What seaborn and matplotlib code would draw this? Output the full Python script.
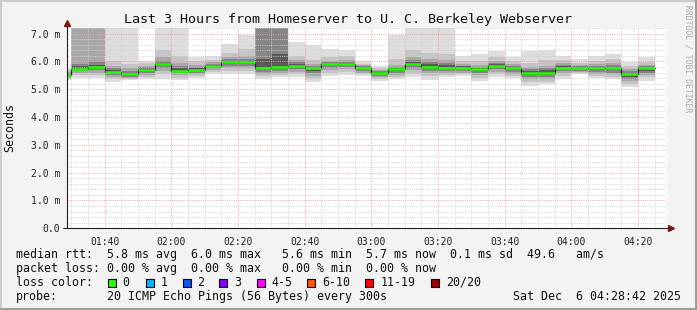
import matplotlib
matplotlib.use("Agg")
import matplotlib.pyplot as plt
from matplotlib.patches import Rectangle
from matplotlib.ticker import MultipleLocator
from matplotlib.lines import Line2D
import seaborn as sns
import pandas as pd

# ---------------- data ----------------
title = "Last 3 Hours from Homeserver to U. C. Berkeley Webserver"
bin_start = ["01:25", "01:30", "01:35", "01:40", "01:45", "01:50", "01:55", "02:00", "02:05",
             "02:10", "02:15", "02:20", "02:25", "02:30", "02:35", "02:40", "02:45", "02:50",
             "02:55", "03:00", "03:05", "03:10", "03:15", "03:20", "03:25", "03:30", "03:35",
             "03:40", "03:45", "03:50", "03:55", "04:00", "04:05", "04:10", "04:15", "04:20"]
median = [5.51, 5.74, 5.81, 5.63, 5.53, 5.69, 5.89, 5.67, 5.69, 5.84, 5.98, 5.98, 5.78, 5.81,
          5.85, 5.75, 5.89, 5.92, 5.75, 5.60, 5.71, 5.92, 5.81, 5.78, 5.78, 5.71, 5.85, 5.75,
          5.60, 5.60, 5.78, 5.75, 5.75, 5.75, 5.54, 5.75]
# smoke bands (ms): outermost (1) to innermost (5)
hi1 = [5.75, 7.4, 7.4, 7.4, 7.4, 6.02, 7.4, 7.4, 6.15, 6.2, 6.63, 6.95, 7.4, 7.4, 6.69, 6.6, 6.45, 6.41,
       6.0, 5.83, 6.95, 7.4, 7.4, 7.4, 6.2, 6.27, 6.39, 6.17, 6.39, 6.41, 6.19, 6.09, 6.19, 6.25, 5.97, 6.15]
hi2 = [5.68, 7.4, 7.4, 6.0, 5.92, 5.95, 6.4, 6.2, 6.0, 6.05, 6.3, 6.45, 7.4, 7.4, 6.2, 6.05, 6.15, 6.2,
       5.92, 5.76, 6.1, 6.4, 6.3, 6.25, 6.0, 6.0, 6.15, 6.0, 5.95, 6.05, 6.05, 5.95, 6.0, 6.1, 5.82, 5.97]
hi3 = [5.63, 7.4, 7.4, 5.85, 5.75, 5.85, 6.15, 5.95, 5.88, 5.97, 6.15, 6.2, 7.4, 7.4, 6.05, 5.92, 6.02, 6.05,
       5.86, 5.7, 5.88, 6.15, 6.1, 6.05, 5.9, 5.88, 6.0, 5.9, 5.8, 5.85, 5.95, 5.87, 5.9, 5.95, 5.72, 5.88]
hi4 = [5.59, 5.92, 5.98, 5.78, 5.65, 5.8, 6.0, 5.82, 5.8, 5.92, 6.07, 6.1, 7.4, 7.4, 5.97, 5.85, 5.96, 5.99,
       5.82, 5.66, 5.8, 6.05, 5.97, 5.93, 5.85, 5.8, 5.93, 5.84, 5.72, 5.75, 5.88, 5.82, 5.84, 5.86, 5.65, 5.82]
hi5 = [5.55, 5.82, 5.88, 5.7, 5.6, 5.74, 5.95, 5.75, 5.75, 5.88, 6.02, 6.03, 6.1, 6.25, 5.92, 5.8, 5.92, 5.95,
       5.79, 5.63, 5.76, 5.98, 5.9, 5.86, 5.82, 5.76, 5.89, 5.8, 5.66, 5.68, 5.83, 5.79, 5.8, 5.8, 5.6, 5.79]
lo5 = [5.47, 5.68, 5.72, 5.58, 5.49, 5.62, 5.82, 5.62, 5.64, 5.79, 5.9, 5.9, 5.7, 5.72, 5.78, 5.66, 5.82, 5.85,
       5.7, 5.54, 5.64, 5.85, 5.72, 5.7, 5.73, 5.65, 5.78, 5.69, 5.52, 5.52, 5.72, 5.71, 5.68, 5.68, 5.45, 5.67]
lo4 = [5.44, 5.64, 5.68, 5.52, 5.45, 5.57, 5.75, 5.57, 5.59, 5.75, 5.82, 5.83, 5.62, 5.65, 5.72, 5.58, 5.76, 5.8,
       5.64, 5.49, 5.58, 5.78, 5.65, 5.64, 5.67, 5.58, 5.72, 5.63, 5.45, 5.45, 5.65, 5.67, 5.62, 5.6, 5.38, 5.6]
lo3 = [5.41, 5.58, 5.6, 5.45, 5.42, 5.5, 5.65, 5.5, 5.53, 5.69, 5.75, 5.75, 5.55, 5.58, 5.63, 5.48, 5.68, 5.72,
       5.58, 5.43, 5.52, 5.68, 5.57, 5.57, 5.6, 5.5, 5.62, 5.56, 5.36, 5.36, 5.57, 5.63, 5.55, 5.53, 5.3, 5.52]
lo2 = [5.37, 5.5, 5.52, 5.38, 5.38, 5.43, 5.55, 5.42, 5.48, 5.62, 5.65, 5.67, 5.47, 5.5, 5.53, 5.38, 5.58, 5.62,
       5.53, 5.37, 5.45, 5.55, 5.47, 5.5, 5.54, 5.42, 5.53, 5.49, 5.25, 5.27, 5.48, 5.59, 5.49, 5.45, 5.2, 5.43]
lo1 = [5.33, 5.4, 5.42, 5.27, 5.33, 5.36, 5.37, 5.33, 5.42, 5.55, 5.55, 5.55, 5.37, 5.43, 5.43, 5.25, 5.49, 5.5,
       5.48, 5.28, 5.37, 5.43, 5.33, 5.43, 5.48, 5.31, 5.43, 5.42, 5.13, 5.17, 5.37, 5.54, 5.42, 5.37, 5.07, 5.31]

x_tick_labels = ["01:40", "02:00", "02:20", "02:40", "03:00", "03:20", "03:40", "04:00", "04:20"]
y_tick_values = [0, 1, 2, 3, 4, 5, 6, 7]
y_tick_labels = ["0.0", "1.0 m", "2.0 m", "3.0 m", "4.0 m", "5.0 m", "6.0 m", "7.0 m"]
window_start, window_end = "01:28:42", "04:28:42"

rtt_stats = ["5.8", "6.0", "5.6", "5.7", "0.1", "49.6"]
loss_stats = ["0.00", "0.00", "0.00", "0.00"]
loss_labels = ["0", "1", "2", "3", "4-5", "6-10", "11-19", "20/20"]
loss_colors = ["#26ff00", "#00b8ff", "#0059ff", "#7e00ff", "#ff00ff", "#ff5500", "#ff0000", "#a10000"]
probe_text = "20 ICMP Echo Pings (56 Bytes) every 300s"
date_text = "Sat Dec  6 04:28:42 2025"
watermark = "RRDTOOL / TOBI OETIKER"


def to_min(s):
    parts = [float(p) for p in s.split(":")]
    m = parts[0] * 60 + parts[1]
    if len(parts) > 2:
        m += parts[2] / 60
    return m


# ---------------- style ----------------
sns.set_theme(style="white")
plt.rcParams["font.family"] = ["DejaVu Sans Mono"]

W, H = 697, 310
BG = "#f3f3f3"
fig = plt.figure(figsize=(W / 100, H / 100), dpi=100, facecolor=BG)
ax_l, ax_r, ax_b, ax_t = 67, 667, 228.3, 28
ax = fig.add_axes([ax_l / W, 1 - ax_b / H, (ax_r - ax_l) / W, (ax_b - ax_t) / H])
ax.set_facecolor("white")

starts = [to_min(s) for s in bin_start]
step = 5.0
df = pd.DataFrame({"start": starts, "median": median})

band_colors = ["#dddddd", "#c4c4c4", "#a8a8a8", "#858585", "#5a5a5a"]
his = [hi1, hi2, hi3, hi4, hi5]
los = [lo1, lo2, lo3, lo4, lo5]
for hi, lo, c in zip(his, los, band_colors):
    ax.bar(starts, [h - l for h, l in zip(hi, lo)], bottom=lo, width=step, align="edge",
           color=c, linewidth=0, zorder=1)

# median: dark step line + green band
xs = starts + [starts[-1] + step]
ys = median + [median[-1]]
sns.lineplot(x=xs, y=ys, drawstyle="steps-post", color="#202020", lw=0.9, ax=ax,
             zorder=3, estimator=None, sort=False)
ax.hlines(median, starts, [s + step for s in starts], color=loss_colors[0], lw=1.8, zorder=4)

ax.set_xlim(to_min(window_start), to_min(window_end))
ax.set_ylim(0, 7.2)

ax.set_xticks([to_min(t) for t in x_tick_labels])
ax.set_xticklabels(x_tick_labels)
ax.set_yticks(y_tick_values)
ax.set_yticklabels(y_tick_labels)
ax.xaxis.set_minor_locator(MultipleLocator(5))
ax.yaxis.set_minor_locator(MultipleLocator(0.2))
ax.set_axisbelow(False)
dots = (0, (1, 1.2))
ax.grid(which="minor", color="#cfcfcf", linestyle=dots, lw=0.6, zorder=2.5)
ax.grid(which="major", color="#f2a0a0", linestyle=dots, lw=0.6, zorder=2.5)
ax.tick_params(axis="both", which="major", labelsize=7, length=2, width=0.6,
               color="#404040", labelcolor="#202020")
ax.tick_params(axis="y", pad=3)
ax.tick_params(axis="x", pad=4)
ax.tick_params(which="minor", length=0)
for s in ax.spines.values():
    s.set_visible(False)
ax.set_xlabel("")
ax.set_ylabel("")

# axes lines with arrows
axis_col = "#202020"
arrow_col = "#7f1515"
ax.add_line(Line2D([0, 0], [0, 1.02], transform=ax.transAxes, color=axis_col, lw=0.8, clip_on=False, zorder=5))
ax.add_line(Line2D([-0.006, 1.002], [0, 0], transform=ax.transAxes, color=axis_col, lw=0.8, clip_on=False, zorder=5))
ax.plot([0], [1.025], marker="^", ms=4.2, color=arrow_col, transform=ax.transAxes, clip_on=False, zorder=6)
ax.plot([1.006], [0], marker=">", ms=4.2, color=arrow_col, transform=ax.transAxes, clip_on=False, zorder=6)


def ft(x, y, s, **kw):
    fig.text(x / W, 1 - y / H, s, **kw)


ft(348, 19, title, ha="center", va="center", fontsize=9.6, color="#101010")
ft(10, 128, "Seconds", ha="center", va="center", rotation=90, fontsize=8.4, color="#101010")
ft(688, 5, watermark, ha="center", va="top", rotation=270, fontsize=5.8, color="#aaaaaa")

LS = 8.4
row1 = ("median rtt:  {} ms avg  {} ms max   {} ms min  {} ms now  {} ms sd  {}   am/s"
        .format(*rtt_stats))
row2 = "packet loss: {} % avg  {} % max   {} % min  {} % now".format(*loss_stats)
ft(16, 254.5, row1, ha="left", va="center", fontsize=LS, color="#101010")
ft(16, 268.3, row2, ha="left", va="center", fontsize=LS, color="#101010")
ft(16, 282.3, "loss color:", ha="left", va="center", fontsize=LS, color="#101010")
ft(16, 296.2, "probe:", ha="left", va="center", fontsize=LS, color="#101010")
ft(107.3, 296.2, probe_text, ha="left", va="center", fontsize=LS, color="#101010")
ft(513.3, 296.2, date_text, ha="left", va="center", fontsize=LS, color="#101010")

box_x = [108, 145.7, 182.7, 219.3, 256.7, 307.3, 365, 430.7]
lab_x = [122.5, 160.5, 197.5, 234.5, 271.5, 322.3, 380.5, 445.7]
for bx, lx, lab, col in zip(box_x, lab_x, loss_labels, loss_colors):
    fig.patches.append(Rectangle((bx / W, 1 - 286.5 / H), 8 / W, 8 / H, transform=fig.transFigure,
                                 facecolor=col, edgecolor="#000000", lw=0.8))
    ft(lx, 282.3, lab, ha="left", va="center", fontsize=LS, color="#101010")

# 3D-ish frame
fig.add_artist(Line2D([0, 1], [1 - 1 / H, 1 - 1 / H], transform=fig.transFigure, color="#cccccc", lw=1.5))
fig.add_artist(Line2D([1 / W, 1 / W], [0, 1], transform=fig.transFigure, color="#cccccc", lw=1.5))
fig.add_artist(Line2D([0, 1], [1.5 / H, 1.5 / H], transform=fig.transFigure, color="#9c9c9c", lw=2.2))
fig.add_artist(Line2D([1 - 1.5 / W, 1 - 1.5 / W], [0, 1], transform=fig.transFigure, color="#9c9c9c", lw=2.2))

fig.savefig("out.png", dpi=100, facecolor=BG)
